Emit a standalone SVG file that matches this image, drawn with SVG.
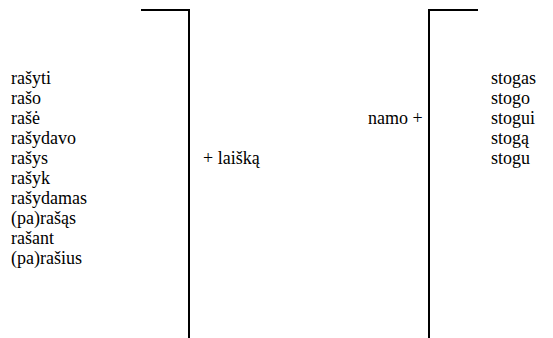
<svg xmlns="http://www.w3.org/2000/svg" width="553" height="338" viewBox="0 0 553 338">
  <style>
    .t { font-family: 'Liberation Serif', 'Times New Roman', serif; font-size: 18px; fill: #000; }
    .bracket { fill: none; stroke: #000; stroke-width: 2; }
  </style>
  <rect width="553" height="338" fill="#fff"/>
  <!-- verb forms of "rašyti" -->
  <g id="verb-forms" class="t">
    <text x="11" y="84">rašyti</text>
    <text x="11" y="104">rašo</text>
    <text x="11" y="124">rašė</text>
    <text x="11" y="144">rašydavo</text>
    <text x="11" y="164">rašys</text>
    <text x="11" y="184">rašyk</text>
    <text x="11" y="204">rašydamas</text>
    <text x="11" y="224">(pa)rašąs</text>
    <text x="11" y="244">rašant</text>
    <text x="11" y="264">(pa)rašius</text>
  </g>
  <!-- brackets grouping each column -->
  <g id="connectors">
    <path class="bracket" d="M141 10 H189 V338"/>
    <path class="bracket" d="M478 10 H429 V338"/>
  </g>
  <g id="object-laiska" class="t">
    <text x="203" y="164">+ laišką</text>
  </g>
  <g id="prefix-namo" class="t">
    <text x="368" y="124">namo +</text>
  </g>
  <!-- case forms of "stogas" -->
  <g id="noun-forms" class="t">
    <text x="491" y="84">stogas</text>
    <text x="491" y="104">stogo</text>
    <text x="491" y="124">stogui</text>
    <text x="491" y="144">stogą</text>
    <text x="491" y="164">stogu</text>
  </g>
</svg>
